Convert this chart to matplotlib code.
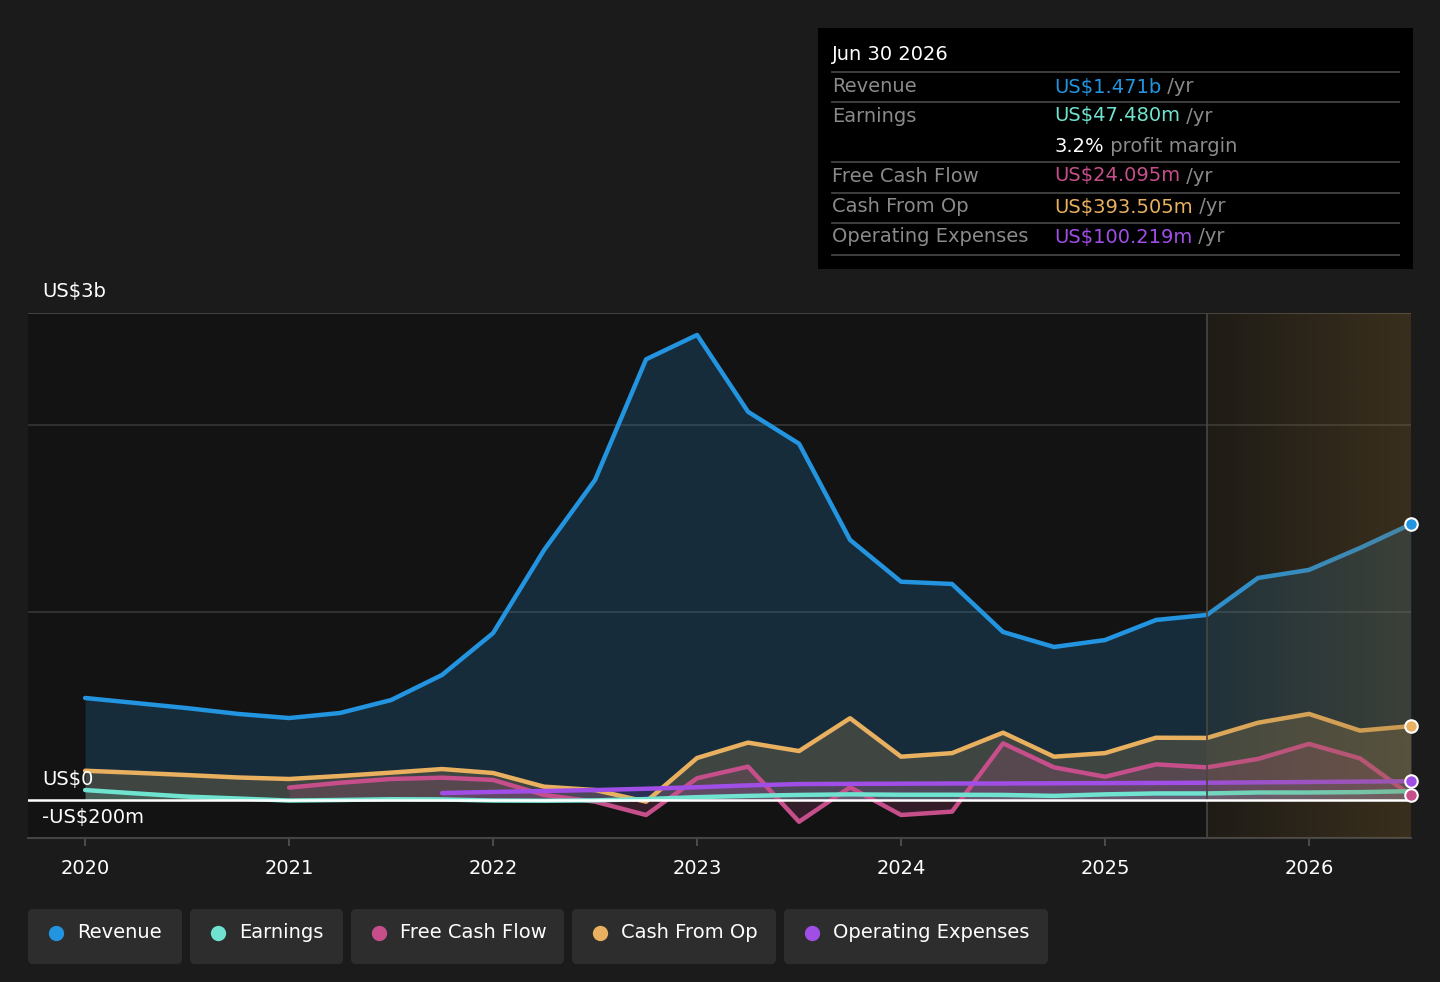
import numpy as np
import matplotlib
matplotlib.use("Agg")
import matplotlib.pyplot as plt
from matplotlib.patches import Rectangle, FancyBboxPatch

# values in US$ billions, quarterly
rev_x = [2020.0, 2020.25, 2020.5, 2020.75, 2021.0, 2021.25, 2021.5, 2021.75,
         2022.0, 2022.25, 2022.5, 2022.75, 2023.0, 2023.25, 2023.5, 2023.75,
         2024.0, 2024.25, 2024.5, 2024.75, 2025.0, 2025.25, 2025.5, 2025.75,
         2026.0, 2026.25, 2026.5]
revenue = [0.544, 0.517, 0.490, 0.459, 0.437, 0.464, 0.533, 0.667,
           0.890, 1.333, 1.707, 2.350, 2.480, 2.070, 1.900, 1.387,
           1.164, 1.152, 0.896, 0.816, 0.853, 0.960, 0.987, 1.184,
           1.227, 1.344, 1.471]
earnings = [0.053, 0.035, 0.018, 0.008, -0.003, 0.000, 0.004, 0.003,
            -0.003, -0.004, -0.002, 0.005, 0.015, 0.022, 0.027, 0.030,
            0.028, 0.028, 0.027, 0.022, 0.030, 0.035, 0.035, 0.040,
            0.040, 0.042, 0.047]
cash_from_op = [0.156, 0.145, 0.133, 0.120, 0.112, 0.128, 0.146, 0.165,
                0.144, 0.071, 0.053, -0.009, 0.224, 0.306, 0.261, 0.436,
                0.231, 0.250, 0.359, 0.231, 0.250, 0.332, 0.331, 0.412,
                0.459, 0.370, 0.394]

fcf_x = rev_x[4:]
free_cash_flow = [0.066, 0.092, 0.112, 0.119, 0.107, 0.027, -0.009, -0.080,
                  0.116, 0.178, -0.116, 0.068, -0.080, -0.062, 0.302, 0.174,
                  0.124, 0.190, 0.174, 0.219, 0.299, 0.222, 0.024]

opex_x = rev_x[7:]
operating_expenses = [0.037, 0.043, 0.048, 0.053, 0.060, 0.068, 0.078, 0.085,
                      0.086, 0.087, 0.088, 0.088, 0.089, 0.090, 0.091, 0.092,
                      0.094, 0.096, 0.098, 0.100]

years = [2020, 2021, 2022, 2023, 2024, 2025, 2026]
forecast_start = 2025.5

C_REV = "#2394df"
C_EARN = "#6fe3cf"
C_FCF = "#c64f8b"
C_CFO = "#e8b05f"
C_OPEX = "#a04ee6"

BG = "#1b1b1b"
PLOT_BG = "#131313"
FS = 14

W, H = 1440, 982
fig = plt.figure(figsize=(W / 100, H / 100), dpi=100, facecolor=BG)


def fx(px):
    return px / W


def fy(py):
    return 1 - py / H


ax = fig.add_axes([fx(28), fy(838), fx(1411 - 28), (838 - 313) / H])
ax.set_facecolor(PLOT_BG)
ax.set_xlim(2019.72, 2026.5)
ax.set_ylim(-0.2027, 2.597)

for g in [1.0, 2.0, 2.597]:
    ax.axhline(g, color="#363636" if g < 2.5 else "#4a4a4a", lw=1.2, zorder=1)
ax.axhline(0, color="white", lw=1.8, zorder=17)

# series: fill to zero and line
series = [
    (rev_x, revenue, C_REV, 0.2),
    (rev_x, cash_from_op, C_CFO, 0.2),
    (fcf_x, free_cash_flow, C_FCF, 0.18),
    (rev_x, earnings, C_EARN, 0.15),
    (opex_x, operating_expenses, C_OPEX, 0.15),
]
z = 2
for xs, ys, col, a in series:
    ax.fill_between(xs, ys, 0, color=col, alpha=a, lw=0, zorder=z)
    ax.plot(xs, ys, color=col, lw=3.2, solid_joinstyle="round",
            solid_capstyle="round", zorder=z + 5)
    z += 1

# forecast shading
grad = np.zeros((2, 256, 4))
grad[..., 0] = 0.55
grad[..., 1] = 0.42
grad[..., 2] = 0.20
grad[..., 3] = np.linspace(0.10, 0.32, 256)[None, :]
ax.imshow(grad, extent=[forecast_start, 2026.5, -0.2027, 2.597],
          aspect="auto", zorder=15, interpolation="bilinear")
ax.axvline(forecast_start, color="#4a4740", lw=1.2, zorder=16)

# end markers
for xs, ys, col in [(rev_x, revenue, C_REV), (rev_x, cash_from_op, C_CFO),
                    (opex_x, operating_expenses, C_OPEX),
                    (fcf_x, free_cash_flow, C_FCF)]:
    ax.plot(xs[-1], ys[-1], "o", ms=9, mfc=col, mec="white", mew=1.5,
            zorder=20, clip_on=False)

ax.set_xticks(years)
ax.set_xticklabels([str(y) for y in years])
ax.set_yticks([])
ax.tick_params(axis="x", colors="#555555", labelcolor="white", labelsize=FS,
               length=6, width=1.2, pad=9)
for s in ["top", "left", "right"]:
    ax.spines[s].set_visible(False)
ax.spines["bottom"].set_color("#444444")
ax.spines["bottom"].set_linewidth(1.5)

# y labels
fig.text(fx(42), fy(291), "US$3b", color="white", fontsize=FS, va="center")
fig.text(fx(42), fy(780), "US$0", color="white", fontsize=FS, va="center",
         zorder=30)
fig.text(fx(42), fy(818), "-US$200m", color="white", fontsize=FS, va="center",
         zorder=30)

# tooltip box
fig.add_artist(Rectangle((fx(818), fy(269)), fx(1413 - 818), (269 - 28) / H,
                         transform=fig.transFigure, facecolor="black",
                         edgecolor="none", zorder=40))
fig.text(fx(832), fy(55), "Jun 30 2026", color="white", fontsize=FS,
         va="center", zorder=41)
for ly in [72, 102, 162, 193, 223, 255]:
    fig.add_artist(plt.Line2D([fx(832), fx(1399)], [fy(ly), fy(ly)],
                              transform=fig.transFigure, color="#444444",
                              lw=1.3, zorder=41))
rows = [
    (87, "Revenue", "US$1.471b", C_REV, " /yr"),
    (116, "Earnings", "US$47.480m", C_EARN, " /yr"),
    (176, "Free Cash Flow", "US$24.095m", C_FCF, " /yr"),
    (207, "Cash From Op", "US$393.505m", C_CFO, " /yr"),
    (237, "Operating Expenses", "US$100.219m", C_OPEX, " /yr"),
]
GRAY = "#8a8a8a"
for ry, label, val, col, unit in rows:
    fig.text(fx(832), fy(ry), label, color=GRAY, fontsize=FS, va="center",
             zorder=41)
    t = fig.text(fx(1054), fy(ry), val, color=col, fontsize=FS,
                 va="center", zorder=41)
    fig.canvas.draw()
    bb = t.get_window_extent()
    fig.text(bb.x1 / W, fy(ry), unit, color=GRAY, fontsize=FS,
             va="center", zorder=41)
t = fig.text(fx(1054), fy(146), "3.2%", color="white", fontsize=FS,
             va="center", zorder=41)
fig.canvas.draw()
bb = t.get_window_extent()
fig.text(bb.x1 / W, fy(146), " profit margin", color=GRAY, fontsize=FS,
         va="center", zorder=41)

# legend chips
legend = [("Revenue", C_REV, 28, 182), ("Earnings", C_EARN, 190, 343),
          ("Free Cash Flow", C_FCF, 351, 564), ("Cash From Op", C_CFO, 572, 776),
          ("Operating Expenses", C_OPEX, 784, 1048)]
for name, col, x0, x1 in legend:
    box = FancyBboxPatch((x0 / 100, (H - 964) / 100), (x1 - x0) / 100, 0.55,
                         boxstyle="round,pad=0,rounding_size=0.05",
                         transform=fig.dpi_scale_trans, facecolor="#2d2d2d",
                         edgecolor="none", zorder=40)
    fig.add_artist(box)
    fig.add_artist(plt.Line2D([fx(x0 + 28)], [fy(933)], marker="o", ms=10,
                              color=col, transform=fig.transFigure, zorder=41))
    fig.text(fx(x0 + 49), fy(933), name, color="white", fontsize=FS,
             va="center", zorder=41)

fig.savefig("out.png", dpi=100, facecolor=BG)
